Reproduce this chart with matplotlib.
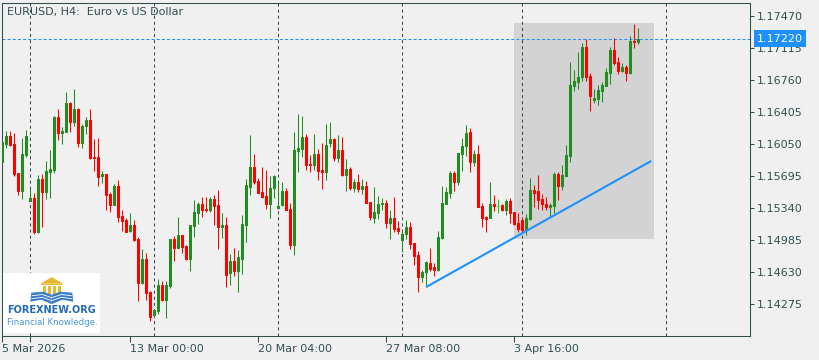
import matplotlib
matplotlib.use('Agg')
import matplotlib.pyplot as plt
import matplotlib.transforms as mtransforms
from matplotlib.patches import Rectangle, Polygon

plt.rcParams['lines.scale_dashes'] = False

# H4 candles, bar index 0..159
OPEN = [1.15854, 1.16050, 1.16139, 1.16050, 1.15728, 1.15529, 1.15928, 1.15421, 1.15451, 1.15074,
        1.15662, 1.15518, 1.15739, 1.15765, 1.16350, 1.16176, 1.16183, 1.16505, 1.16294, 1.16438,
        1.16061, 1.16250, 1.16316, 1.15906, 1.15906, 1.15695, 1.15717, 1.15495, 1.15373, 1.15584,
        1.15251, 1.15207, 1.15085, 1.15151, 1.14996, 1.14508, 1.14774, 1.14408, 1.14153, 1.14197,
        1.14486, 1.14319, 1.14475, 1.14996, 1.14896, 1.15040, 1.14918, 1.14774, 1.15140, 1.15285,
        1.15384, 1.15329, 1.15318, 1.15440, 1.15373, 1.15129, 1.15151, 1.14619, 1.14752, 1.14641,
        1.14774, 1.15151, 1.15573, 1.15795, 1.15640, 1.15518, 1.15473, 1.15384, 1.15562, 1.15340,
        1.15373, 1.15529, 1.15329, 1.14930, 1.15972, 1.15995, 1.16128, 1.15828, 1.15817, 1.15939,
        1.15762, 1.15739, 1.16061, 1.16105, 1.15895, 1.15983, 1.15706, 1.15773, 1.15562, 1.15628,
        1.15551, 1.15584, 1.15407, 1.15229, 1.15285, 1.15384, 1.15395, 1.15174, 1.15229, 1.15118,
        1.14985, 1.15052, 1.15129, 1.14952, 1.14819, 1.14574, 1.14630, 1.14730, 1.14685, 1.14652,
        1.15007, 1.15384, 1.15506, 1.15728, 1.15628, 1.15939, 1.16028, 1.16183, 1.15850, 1.15939,
        1.15362, 1.15240, 1.15229, 1.15384, 1.15362, 1.15373, 1.15318, 1.15418, 1.15296, 1.15174,
        1.15207, 1.15096, 1.15218, 1.15540, 1.15529, 1.15440, 1.15384, 1.15351, 1.15362, 1.15717,
        1.15584, 1.15695, 1.15917, 1.16693, 1.16738, 1.16793, 1.17126, 1.16804, 1.16538, 1.16549,
        1.16638, 1.16693, 1.16838, 1.17093, 1.16960, 1.16860, 1.16904, 1.16838, 1.17193, 1.17182]
HIGH = [1.16076, 1.16194, 1.16194, 1.16168, 1.15732, 1.16117, 1.16205, 1.15558, 1.15506, 1.15706,
        1.15717, 1.15861, 1.15983, 1.16361, 1.16438, 1.16242, 1.16627, 1.16516, 1.16660, 1.16449,
        1.16272, 1.16350, 1.16438, 1.16105, 1.16117, 1.15750, 1.15717, 1.15517, 1.15606, 1.15651,
        1.15318, 1.15229, 1.15285, 1.15207, 1.15018, 1.14885, 1.14841, 1.14419, 1.14208, 1.14552,
        1.14530, 1.14530, 1.14996, 1.15029, 1.15240, 1.15040, 1.14930, 1.15151, 1.15429, 1.15407,
        1.15462, 1.15462, 1.15462, 1.15484, 1.15540, 1.15285, 1.15240, 1.14830, 1.14896, 1.14874,
        1.15262, 1.15662, 1.16150, 1.15939, 1.15673, 1.15795, 1.15762, 1.15695, 1.15706, 1.15628,
        1.15628, 1.15562, 1.15395, 1.16183, 1.16383, 1.16361, 1.16161, 1.15928, 1.16161, 1.15995,
        1.16061, 1.16272, 1.16294, 1.16117, 1.16150, 1.16128, 1.15884, 1.15795, 1.15662, 1.15717,
        1.15662, 1.15640, 1.15407, 1.15573, 1.15473, 1.15451, 1.15429, 1.15318, 1.15462, 1.15196,
        1.15107, 1.15207, 1.15185, 1.14952, 1.14863, 1.14652, 1.14752, 1.14896, 1.14730, 1.15085,
        1.15584, 1.15573, 1.15751, 1.15751, 1.15950, 1.16117, 1.16261, 1.16228, 1.15983, 1.16039,
        1.15396, 1.15251, 1.15628, 1.15484, 1.15440, 1.15384, 1.15440, 1.15451, 1.15296, 1.15285,
        1.15229, 1.15273, 1.15673, 1.15595, 1.15706, 1.15495, 1.15462, 1.15395, 1.15739, 1.15739,
        1.15817, 1.16039, 1.16960, 1.16871, 1.17071, 1.17170, 1.17215, 1.16838, 1.16660, 1.16705,
        1.16738, 1.16893, 1.17126, 1.17226, 1.17015, 1.16949, 1.16926, 1.17248, 1.17381, 1.17337]
LOW = [1.15854, 1.16009, 1.16028, 1.15695, 1.15484, 1.15444, 1.15909, 1.15418, 1.15052, 1.15066,
       1.15133, 1.15444, 1.15451, 1.15732, 1.16094, 1.16050, 1.16183, 1.16183, 1.16250, 1.16017,
       1.16006, 1.16161, 1.15884, 1.15750, 1.15584, 1.15617, 1.15318, 1.15299, 1.15373, 1.15185,
       1.15085, 1.15074, 1.15074, 1.14974, 1.14308, 1.14497, 1.14319, 1.14086, 1.14131, 1.14164,
       1.14308, 1.14120, 1.14452, 1.14752, 1.14896, 1.14841, 1.14763, 1.14641, 1.15018, 1.15163,
       1.15240, 1.15296, 1.15296, 1.15151, 1.14885, 1.15007, 1.14464, 1.14486, 1.14586, 1.14408,
       1.14608, 1.14963, 1.15484, 1.15606, 1.15506, 1.15451, 1.15329, 1.15229, 1.15451, 1.15329,
       1.15362, 1.15318, 1.14885, 1.14819, 1.15739, 1.15906, 1.15762, 1.15739, 1.15762, 1.15651,
       1.15551, 1.15651, 1.16017, 1.15861, 1.15850, 1.15695, 1.15529, 1.15540, 1.15517, 1.15517,
       1.15495, 1.15395, 1.15207, 1.15174, 1.15218, 1.15318, 1.15118, 1.14996, 1.15074, 1.15052,
       1.14852, 1.14996, 1.14885, 1.14708, 1.14408, 1.14519, 1.14464, 1.14641, 1.14586, 1.14641,
       1.14996, 1.15384, 1.15451, 1.15529, 1.15595, 1.15751, 1.15917, 1.15739, 1.15806, 1.15351,
       1.15129, 1.15074, 1.15229, 1.15307, 1.15285, 1.15307, 1.15262, 1.15174, 1.15151, 1.15074,
       1.15074, 1.15040, 1.15207, 1.15351, 1.15329, 1.15318, 1.15318, 1.15240, 1.15285, 1.15429,
       1.15540, 1.15695, 1.15850, 1.16638, 1.16660, 1.16749, 1.16749, 1.16416, 1.16505, 1.16483,
       1.16516, 1.16693, 1.16716, 1.16926, 1.16827, 1.16849, 1.16749, 1.16827, 1.17115, 1.17159]
CLOSE = [1.16076, 1.16139, 1.16039, 1.15717, 1.15529, 1.15939, 1.16139, 1.15451, 1.15074, 1.15662,
         1.15521, 1.15750, 1.15773, 1.16350, 1.16176, 1.16198, 1.16505, 1.16294, 1.16438, 1.16061,
         1.16250, 1.16316, 1.15895, 1.15898, 1.15684, 1.15717, 1.15484, 1.15373, 1.15584, 1.15240,
         1.15196, 1.15074, 1.15151, 1.14985, 1.14508, 1.14774, 1.14397, 1.14131, 1.14208, 1.14486,
         1.14319, 1.14486, 1.14996, 1.14896, 1.15040, 1.14907, 1.14774, 1.15151, 1.15296, 1.15384,
         1.15318, 1.15318, 1.15440, 1.15362, 1.15129, 1.15151, 1.14597, 1.14752, 1.14641, 1.14796,
         1.15162, 1.15595, 1.15795, 1.15628, 1.15506, 1.15462, 1.15384, 1.15562, 1.15695, 1.15362,
         1.15529, 1.15318, 1.14930, 1.15983, 1.16006, 1.16128, 1.15817, 1.15817, 1.15939, 1.15750,
         1.15739, 1.16039, 1.16105, 1.15895, 1.15983, 1.15706, 1.15773, 1.15562, 1.15628, 1.15551,
         1.15584, 1.15395, 1.15240, 1.15296, 1.15384, 1.15395, 1.15174, 1.15229, 1.15107, 1.15085,
         1.15052, 1.15129, 1.14941, 1.14807, 1.14574, 1.14630, 1.14741, 1.14663, 1.14652, 1.15018,
         1.15396, 1.15518, 1.15728, 1.15628, 1.15950, 1.16028, 1.16172, 1.15850, 1.15939, 1.15351,
         1.15229, 1.15218, 1.15384, 1.15362, 1.15362, 1.15318, 1.15418, 1.15285, 1.15163, 1.15107,
         1.15096, 1.15229, 1.15540, 1.15506, 1.15429, 1.15384, 1.15351, 1.15373, 1.15717, 1.15584,
         1.15706, 1.15928, 1.16705, 1.16749, 1.16793, 1.17126, 1.16793, 1.16582, 1.16560, 1.16649,
         1.16705, 1.16849, 1.17093, 1.16949, 1.16860, 1.16904, 1.16838, 1.17193, 1.17182, 1.17220]

LAST_PRICE = 1.17220
Y_TICKS = [1.14275, 1.14630, 1.14985, 1.15340, 1.15695, 1.16050, 1.16405, 1.16760, 1.17115, 1.17470]
X_TICKS = [0, 32, 64, 96, 128]
X_LABELS = ['5 Mar 2026', '13 Mar 00:00', '20 Mar 04:00', '27 Mar 08:00', '3 Apr 16:00']
WEEK_LINES = [7, 38, 69, 100, 130, 166]
TREND_X = [106, 162.2]
TREND_Y = [1.14464, 1.15861]
RECT_X = [128, 163]
RECT_Y = [1.14996, 1.17392]

BG = '#f0f0f0'
FG = '#2f4f4f'
BULL = '#228b22'
BEAR = '#ff0000'
DOJI = '#00e000'
BLUE = '#1e90ff'

W, H = 820, 360
fig = plt.figure(figsize=(W / 100, H / 100), dpi=100, facecolor=BG)
ax = fig.add_axes([2 / W, 24 / H, 748 / W, 333.5 / H])
ax.set_facecolor(BG)
ax.set_xlim(-0.075, 186.925)
ax.set_ylim(1.139199, 1.176198)

# selection rectangle behind the candles
ax.add_patch(Rectangle((RECT_X[0], RECT_Y[0]), RECT_X[1] - RECT_X[0], RECT_Y[1] - RECT_Y[0],
                       facecolor='#d3d3d3', edgecolor='none', zorder=0.5))

for x in WEEK_LINES:
    ax.axvline(x, color=FG, lw=0.75, ls=(0, (2.2, 2.2)), zorder=1)

ax.axhline(LAST_PRICE, color=BLUE, lw=0.75, ls=(0, (2.2, 1.5)), zorder=1.5)

idx = list(range(len(OPEN)))
colors = []
for o, c in zip(OPEN, CLOSE):
    if c > o:
        colors.append(BULL)
    elif c < o:
        colors.append(BEAR)
    else:
        colors.append(DOJI)

ax.vlines(idx, LOW, HIGH, colors=colors, lw=0.75, zorder=3)
bottoms = [min(o, c) for o, c in zip(OPEN, CLOSE)]
heights = [abs(c - o) for o, c in zip(OPEN, CLOSE)]
ax.bar(idx, heights, bottom=bottoms, width=0.55, color=colors, edgecolor=colors,
       linewidth=0.75, zorder=3)

ax.plot(TREND_X, TREND_Y, color=BLUE, lw=1.5, solid_capstyle='butt', zorder=4)

for s in ax.spines.values():
    s.set_color(FG)
    s.set_linewidth(0.75)

ax.yaxis.tick_right()
ax.set_yticks(Y_TICKS)
ax.set_yticklabels([f'{v:.5f}' for v in Y_TICKS])
ax.tick_params(axis='y', length=3, width=0.75, color=FG, pad=2, labelsize=8, labelcolor=FG)

ax.set_xticks(X_TICKS)
ax.set_xticklabels(X_LABELS)
ax.set_xticks([7], minor=True)
ax.tick_params(axis='x', which='both', length=4, width=0.75, color=FG, pad=2,
               labelsize=8, labelcolor=FG)
for lbl in ax.get_xticklabels():
    lbl.set_horizontalalignment('left')

# current price tag on the scale
trans = mtransforms.blended_transform_factory(ax.transAxes, ax.transData)
trans = trans + mtransforms.ScaledTranslation(7 / 100, 0, fig.dpi_scale_trans)
ax.text(1, LAST_PRICE, f'{LAST_PRICE:.5f}', transform=trans, ha='left', va='center',
        color='white', fontsize=8, clip_on=False, zorder=10,
        bbox=dict(boxstyle='square,pad=0.3', fc=BLUE, ec='none'))

fig.text(7 / W, 1 - 12 / H, 'EURUSD, H4:  Euro vs US Dollar', fontsize=8, color=FG,
         ha='left', va='center')

# watermark logo
logo = fig.add_axes([3.3 / W, 27.3 / H, 96.7 / W, 60 / H])
logo.set_xlim(0, 96.7)
logo.set_ylim(60, 0)
logo.set_facecolor('white')
logo.set_xticks([])
logo.set_yticks([])
for s in logo.spines.values():
    s.set_visible(False)
gold = '#e8b730'
logo.add_patch(Polygon([(37, 11), (48.4, 4.5), (60, 11)], closed=True, fc=gold, ec='none'))
logo.add_patch(Rectangle((38, 11), 21, 1.6, fc=gold, ec='none'))
for cx in [39.8, 44.8, 49.8, 54.8]:
    logo.add_patch(Rectangle((cx, 13.2), 2.6, 8, fc=gold, ec='none'))
book = '#3d7cc9'
logo.add_patch(Polygon([(48.4, 22), (40, 19), (28, 20), (27, 29), (38, 27), (48.4, 31.5)],
                       closed=True, fc=book, ec='none'))
logo.add_patch(Polygon([(48.4, 22), (57, 19), (69, 20), (70, 29), (59, 27), (48.4, 31.5)],
                       closed=True, fc=book, ec='none'))
logo.plot([29, 39, 48.4], [23, 21.8, 25], color='white', lw=0.6)
logo.plot([48.4, 58, 68], [25, 21.8, 23], color='white', lw=0.6)
logo.plot([28.5, 39, 48.4], [26, 24.6, 28], color='white', lw=0.6)
logo.plot([48.4, 58, 68.5], [28, 24.6, 26], color='white', lw=0.6)
logo.text(48.4, 37.5, 'FOREXNEW.ORG', ha='center', va='center', fontsize=7,
          fontweight='bold', color='#2468b4')
logo.text(49, 49.5, 'Financial Knowledge.', ha='center', va='center', fontsize=6.2,
          color='#4b95d6')

fig.savefig('out.png', dpi=100, facecolor=BG)
